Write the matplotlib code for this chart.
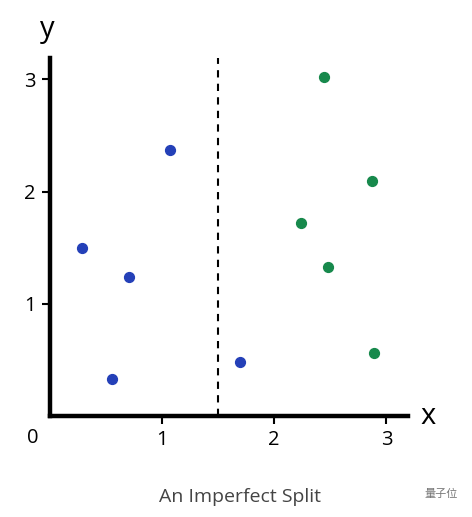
import matplotlib.pyplot as plt

# points
left_x = [0.29, 0.71, 1.07, 0.56, 1.70]
left_y = [1.50, 1.24, 2.37, 0.33, 0.48]
right_x = [2.44, 2.87, 2.24, 2.48, 2.89]
right_y = [3.02, 2.09, 1.72, 1.33, 0.56]
split_x = 1.5
ticks = [1, 2, 3]
caption = 'An Imperfect Split'

plt.rcParams['font.family'] = ['Open Sans', 'Noto Sans CJK SC', 'DejaVu Sans']

fig = plt.figure(figsize=(4.72, 5.17), dpi=100)
ax = fig.add_axes([0.105, 0.195, 0.759, 0.693])

ax.scatter(left_x, left_y, s=50, color='#2440b8', zorder=3)
ax.scatter(right_x, right_y, s=50, color='#17894c', zorder=3)
ax.axvline(split_x, color='black', linestyle=(0, (3.5, 3)), linewidth=1.5)

ax.set_xlim(0, 3.19)
ax.set_ylim(0, 3.19)
ax.set_xticks(ticks)
ax.set_yticks(ticks)
ax.set_xticklabels([str(t) for t in ticks])
ax.set_yticklabels([str(t) for t in ticks])
ax.tick_params(axis='both', length=6, width=1.5, labelsize=14.5, pad=4)

for side in ['top', 'right']:
    ax.spines[side].set_visible(False)
for side in ['left', 'bottom']:
    ax.spines[side].set_linewidth(3.2)

fig.text(33 / 472, 1 - 438 / 517, '0', fontsize=14.5, ha='center', va='center')
fig.text(47 / 472, 1 - 30 / 517, 'y', fontsize=21, ha='center', va='center')
fig.text(428 / 472, 1 - 416 / 517, 'x', fontsize=21, ha='center', va='center')
fig.text(240 / 472, 1 - 497 / 517, caption, fontsize=14, ha='center',
         va='center', color='#444444')
fig.text(441 / 472, 1 - 494 / 517, '量子位', fontsize=8, ha='center',
         va='center', color='#777777')

fig.savefig('out.png', dpi=100)
